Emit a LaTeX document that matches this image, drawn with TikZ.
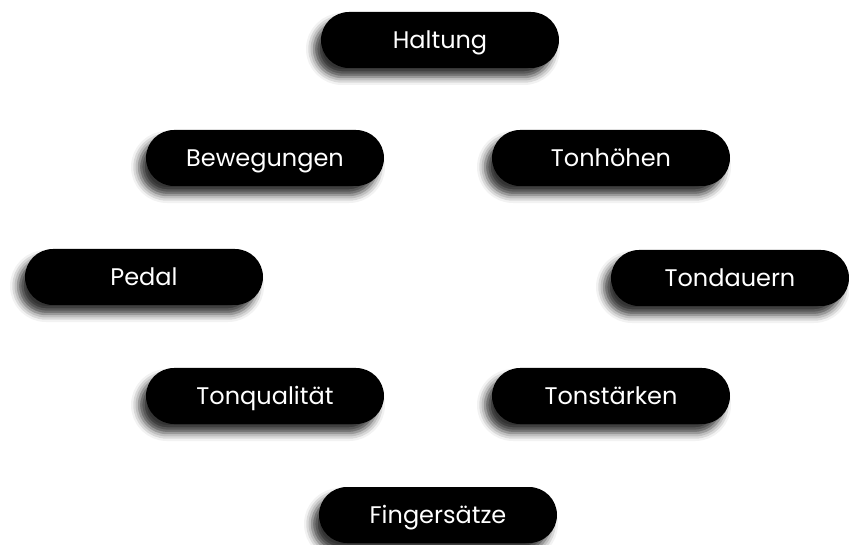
\documentclass[tikz,border=0pt]{standalone}
\usepackage{fontspec}
\setmainfont{Poppins}
\usetikzlibrary{shadows.blur}
\tikzset{
  pill/.style={fill=black, text=white, rounded corners=28pt,
    minimum width=238pt, minimum height=56pt, inner sep=0pt,
    text height=17pt, text depth=0pt,
    font=\fontsize{24}{28}\selectfont,
    blur shadow={shadow xshift=-7pt, shadow yshift=-9pt,
      shadow blur radius=8pt, shadow opacity=80}}
}
\begin{document}
\begin{tikzpicture}[x=1pt,y=1pt]
\useasboundingbox (0,0) rectangle (849,-545);
\node[pill] (haltung) at (440,-40) {Haltung};
\node[pill] (bewegungen) at (265,-158) {Bewegungen};
\node[pill] (tonhoehen) at (611,-158) {Tonhöhen};
\node[pill] (pedal) at (144,-277) {Pedal};
\node[pill] (tondauern) at (730,-278) {Tondauern};
\node[pill] (tonqualitaet) at (265,-396) {Tonqualität};
\node[pill] (tonstaerken) at (611,-396) {Tonstärken};
\node[pill] (fingersaetze) at (438,-515) {Fingersätze};
\end{tikzpicture}
\end{document}
